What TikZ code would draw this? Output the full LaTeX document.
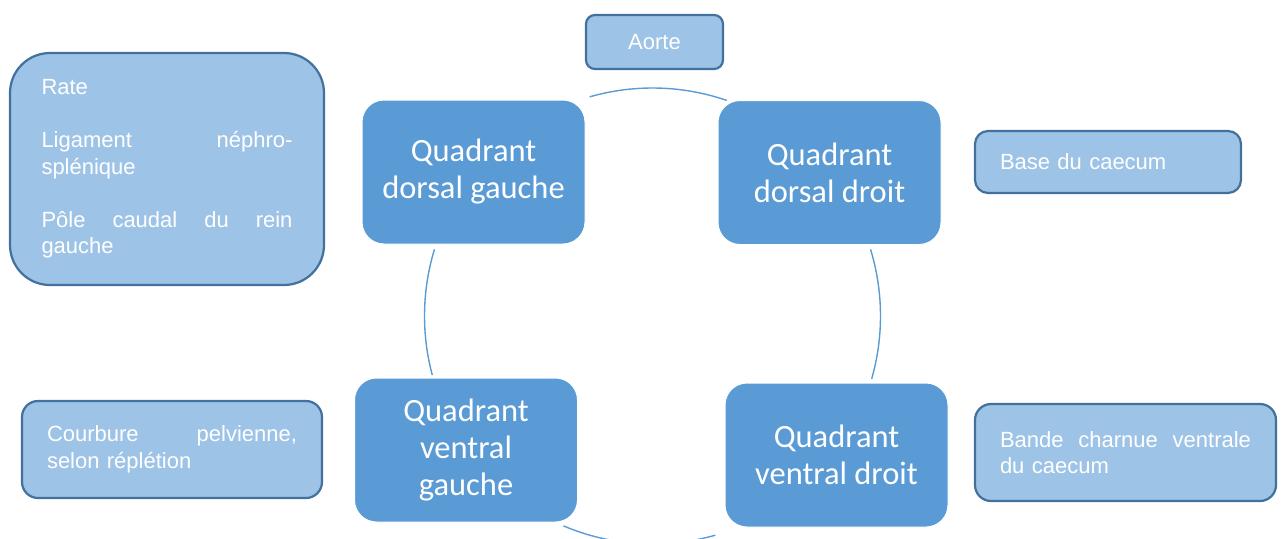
\documentclass[tikz,border=0pt]{standalone}
\usepackage{fontspec}
\setmainfont{Liberation Sans}
\newfontfamily\calibri{Carlito}
\definecolor{accent}{HTML}{5B9BD5}
\definecolor{light}{HTML}{9DC3E6}
\definecolor{edge}{HTML}{41719C}
\begin{document}
\begin{tikzpicture}[x=1pt,y=1pt,
  quad/.style={rounded corners=22pt, fill=accent, draw=white, line width=1pt,
    text=white, font=\calibri\fontsize{32.5}{37}\selectfont, align=center,
    minimum width=223pt, minimum height=144pt, inner sep=0pt},
  info/.style={fill=light, draw=edge, line width=2.2pt, text=white,
    font=\fontsize{22}{26.5}\selectfont, inner sep=0pt},
  ringline/.style={draw=accent, line width=1.4pt}]
\useasboundingbox (0,0) rectangle (1284,-538);
% ring of the cycle
\node[circle, minimum size=456pt, inner sep=0pt, outer sep=0pt] (ring) at (652.5,-316) {};
\draw[ringline] (ring.106) arc[start angle=106, end angle=71, radius=228pt];
\draw[ringline] (ring.17) arc[start angle=17, end angle=-16, radius=228pt];
\draw[ringline] (ring.247) arc[start angle=247, end angle=286, radius=228pt];
\draw[ringline] (ring.163) arc[start angle=163, end angle=195, radius=228pt];
% quadrants
\node[quad] (dg) at (473.5,-172) {Quadrant\\dorsal gauche};
\node[quad] (dd) at (829.5,-172.5) {Quadrant\\dorsal droit};
\node[quad] (vg) at (466,-450) {Quadrant\\ventral\\gauche};
\node[quad] (vd) at (836.5,-455) {Quadrant\\ventral droit};
% information boxes
\node[info, rounded corners=9pt, minimum width=137pt, minimum height=54pt] (aorte) at (654.5,-42) {Aorte};
\node[info, rounded corners=40pt, minimum width=314pt, minimum height=232pt, text width=251pt] (rate) at (167,-169)
  {Rate\\[26.5pt]Ligament\hfill néphro-\\splénique\\[26.5pt]Pôle\hfill caudal\hfill du\hfill rein\\gauche};
\node[info, rounded corners=13pt, minimum width=266pt, minimum height=62pt, text width=216pt] (base) at (1108,-162) {Base du caecum};
\node[info, rounded corners=16pt, minimum width=300pt, minimum height=97pt, text width=250pt] (courb) at (172,-449.5)
  {Courbure\hfill pelvienne,\\selon réplétion};
\node[info, rounded corners=16pt, minimum width=301pt, minimum height=97pt, text width=251pt] (bande) at (1125.5,-452.5)
  {Bande\hfill charnue\hfill ventrale\\du caecum};
\end{tikzpicture}
\end{document}
